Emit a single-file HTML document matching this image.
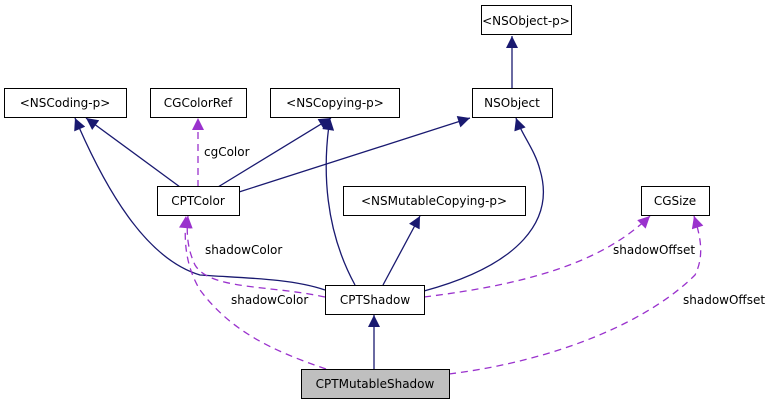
<!DOCTYPE html>
<html><head><meta charset="utf-8"><style>
body{margin:0;background:#fff}
svg{display:block}
text{font-family:"DejaVu Sans","Liberation Sans",sans-serif;font-size:12px;fill:#000}
</style></head><body>
<svg width="775" height="405" viewBox="0 0 775 405" xmlns="http://www.w3.org/2000/svg">
<defs>
<marker id="b" viewBox="0 0 10 10" refX="10" refY="5" markerWidth="13" markerHeight="12" markerUnits="userSpaceOnUse" orient="auto"><path d="M0,0L10,5L0,10z" fill="#191970"/></marker>
<marker id="p" viewBox="0 0 10 10" refX="10" refY="5" markerWidth="13" markerHeight="12" markerUnits="userSpaceOnUse" orient="auto"><path d="M0,0L10,5L0,10z" fill="#9a32cd"/></marker>
</defs>
<g fill="none" stroke="#191970" stroke-width="1.3" marker-end="url(#b)">
<path d="M512,88 L512,36"/>
<path d="M180,187 L86,118"/>
<path d="M218,187 L331,118"/>
<path d="M239,192 L470,118"/>
<path d="M325,290 C290,278 240,278 200,275 C150,260 110,200 75,118"/>
<path d="M355,285 C325,230 322,170 330,118"/>
<path d="M383,285 L420,216"/>
<path d="M424,291 C520,265 555,220 540,170 C535,150 522,135 516,118"/>
<path d="M374,369 L374,315"/>
</g>
<g fill="none" stroke="#9a32cd" stroke-width="1.3" stroke-dasharray="7,5" marker-end="url(#p)">
<path d="M198,187 L198,118"/>
<path d="M325,297 C270,285 210,290 195,265 C188,250 186,235 188,216"/>
<path d="M424,297 C520,285 600,265 650,216"/>
<path d="M326,369 C270,350 230,330 200,290 C185,265 184,240 186,216"/>
<path d="M449,374 C560,360 650,320 695,275 C705,255 700,235 694,216"/>
</g>
<g stroke="#000" stroke-width="1" fill="#fff">
<rect x="481.5" y="5.5" width="90" height="29"/>
<rect x="4.5" y="88.5" width="122" height="29"/>
<rect x="150.5" y="88.5" width="96" height="29"/>
<rect x="270.5" y="88.5" width="129" height="29"/>
<rect x="472.5" y="88.5" width="80" height="29"/>
<rect x="157.5" y="186.5" width="82" height="29"/>
<rect x="343.5" y="186.5" width="182" height="29"/>
<rect x="641.5" y="186.5" width="68" height="29"/>
<rect x="325.5" y="285.5" width="99" height="29"/>
<rect x="301.5" y="369.5" width="148" height="29" fill="#bfbfbf"/>
</g>
<g text-anchor="middle">
<text x="526" y="25">&lt;NSObject-p&gt;</text>
<text x="65" y="107">&lt;NSCoding-p&gt;</text>
<text x="198" y="107">CGColorRef</text>
<text x="335" y="107">&lt;NSCopying-p&gt;</text>
<text x="512" y="107">NSObject</text>
<text x="198" y="205">CPTColor</text>
<text x="434" y="205">&lt;NSMutableCopying-p&gt;</text>
<text x="675" y="205">CGSize</text>
<text x="375" y="304">CPTShadow</text>
<text x="375" y="388">CPTMutableShadow</text>
</g>
<text x="204" y="156">cgColor</text>
<text x="205" y="254">shadowColor</text>
<text x="231" y="304">shadowColor</text>
<text x="613" y="254">shadowOffset</text>
<text x="683" y="304">shadowOffset</text>
</svg>
</body></html>
